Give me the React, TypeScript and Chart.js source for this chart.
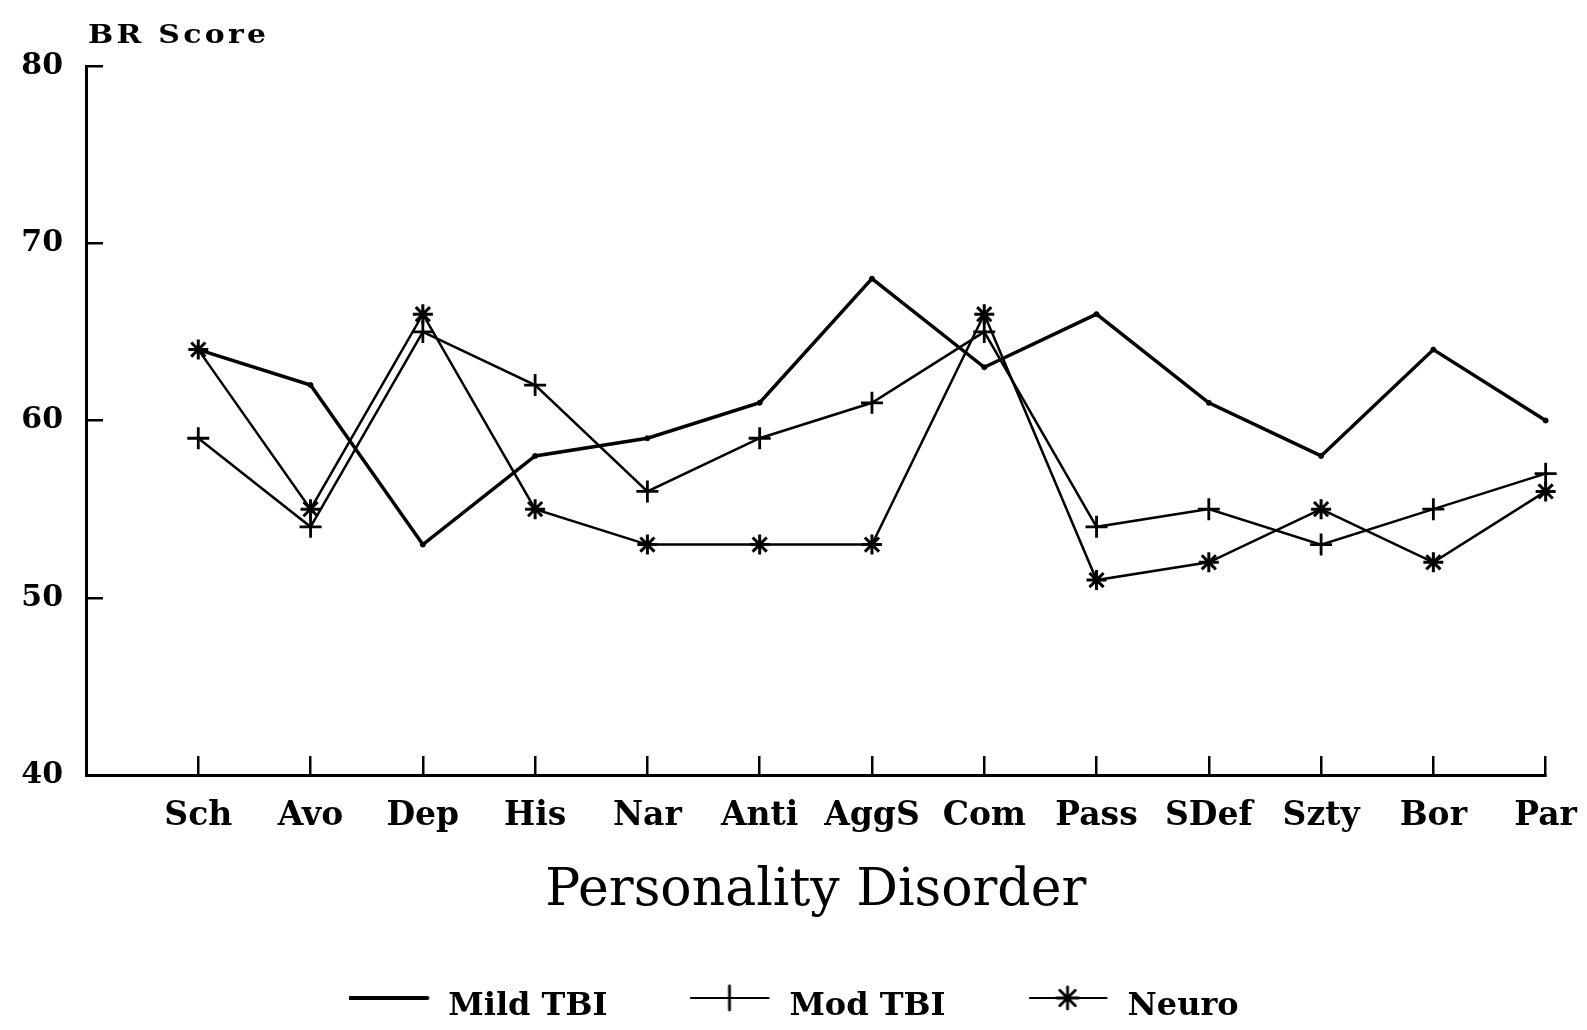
import React, { useEffect, useRef } from 'react';
import { Chart, registerables } from 'chart.js';

Chart.register(...registerables);

// ---- data ----
const categories = ['Sch', 'Avo', 'Dep', 'His', 'Nar', 'Anti', 'AggS', 'Com', 'Pass', 'SDef', 'Szty', 'Bor', 'Par'];
const mildTBI = [64, 62, 53, 58, 59, 61, 68, 63, 66, 61, 58, 64, 60];
const modTBI = [59, 54, 65, 62, 56, 59, 61, 65, 54, 55, 53, 55, 57];
const neuro = [64, 55, 66, 55, 53, 53, 53, 66, 51, 52, 55, 52, 56];
const yTicks = [40, 50, 60, 70, 80];
const seriesNames = ['Mild TBI', 'Mod TBI', 'Neuro'];
const xTitle = 'Personality Disorder';
const yTitle = 'BR Score';

const SERIF = '"DejaVu Serif", "Liberation Serif", serif';

function toPoints(values: number[]) {
  return values.map((v, i) => ({ x: i + 1, y: v }));
}

function legendImage(kind: 'line' | 'cross' | 'star'): HTMLCanvasElement {
  const c = document.createElement('canvas');
  c.width = 83;
  c.height = 50;
  const g = c.getContext('2d') as CanvasRenderingContext2D;
  g.strokeStyle = '#000';
  g.lineCap = 'round';
  const ly = 16;
  g.lineWidth = kind === 'line' ? 4 : 2.2;
  g.beginPath();
  g.moveTo(1, ly);
  g.lineTo(78, ly);
  g.stroke();
  g.lineWidth = 2.8;
  if (kind === 'cross') {
    g.beginPath();
    g.moveTo(39, ly - 12);
    g.lineTo(39, ly + 12);
    g.stroke();
  }
  if (kind === 'star') {
    g.beginPath();
    for (let k = 0; k < 4; k++) {
      const a = (k * Math.PI) / 4;
      const dx = Math.cos(a) * 11;
      const dy = Math.sin(a) * 11;
      g.moveTo(39 - dx, ly - dy);
      g.lineTo(39 + dx, ly + dy);
    }
    g.stroke();
  }
  return c;
}

const brScorePlugin = {
  id: 'brScoreTitle',
  afterDraw(chart: any) {
    const ctx = chart.ctx as CanvasRenderingContext2D;
    ctx.save();
    ctx.font = `bold 26px ${SERIF}`;
    ctx.fillStyle = '#000';
    ctx.textAlign = 'left';
    ctx.textBaseline = 'alphabetic';
    const sx = 1.15;
    const w0 = ctx.measureText(yTitle).width;
    const sp = Math.max(0, (178 / sx - w0) / (yTitle.length - 1));
    (ctx as any).letterSpacing = `${sp}px`;
    ctx.translate(88, 43);
    ctx.scale(sx, 1);
    ctx.fillText(yTitle, 0, 0);
    ctx.restore();
  },
};

export default function App() {
  const canvasRef = useRef<HTMLCanvasElement | null>(null);

  useEffect(() => {
    if (!canvasRef.current) return;
    const images = [legendImage('line'), legendImage('cross'), legendImage('star')];

    const chart = new Chart(canvasRef.current, {
      type: 'line',
      data: {
        datasets: [
          {
            label: seriesNames[0],
            data: toPoints(mildTBI),
            borderColor: '#000',
            backgroundColor: '#000',
            borderWidth: 3.5,
            pointStyle: 'circle',
            pointRadius: 2.5,
            pointBorderWidth: 1,
            pointBackgroundColor: '#000',
            pointBorderColor: '#000',
            tension: 0,
            clip: false as any,
          },
          {
            label: seriesNames[1],
            data: toPoints(modTBI),
            borderColor: '#000',
            backgroundColor: '#000',
            borderWidth: 2.5,
            pointStyle: 'cross',
            pointRadius: 11,
            pointBorderWidth: 2.8,
            pointBorderColor: '#000',
            tension: 0,
            clip: false as any,
          },
          {
            label: seriesNames[2],
            data: toPoints(neuro),
            borderColor: '#000',
            backgroundColor: '#000',
            borderWidth: 2.5,
            pointStyle: 'star',
            pointRadius: 10,
            pointBorderWidth: 3,
            pointBorderColor: '#000',
            tension: 0,
            clip: false as any,
          },
        ],
      },
      options: {
        responsive: false,
        animation: false,
        devicePixelRatio: 1,
        layout: { padding: { left: 10, right: 9, top: 66, bottom: 0 } },
        plugins: {
          tooltip: { enabled: false },
          title: { display: false },
          legend: {
            display: true,
            position: 'bottom',
            maxHeight: 122,
            labels: {
              usePointStyle: true,
              pointStyleWidth: 83,
              padding: 83,
              color: '#000',
              font: { family: SERIF, size: 32, weight: 'bold' },
              generateLabels: () =>
                seriesNames.map((name, i) => ({
                  text: name,
                  pointStyle: images[i] as any,
                  fillStyle: '#000',
                  strokeStyle: '#000',
                  lineWidth: 0,
                  hidden: false,
                  datasetIndex: i,
                  fontColor: '#000',
                })),
            },
          },
        },
        scales: {
          x: {
            type: 'linear',
            position: 'bottom',
            min: 0,
            max: categories.length,
            afterBuildTicks: (s: any) => {
              s.ticks = [0, ...categories.map((_, i) => i + 1)].map((v) => ({ value: v }));
            },
            afterFit: (s: any) => {
              s.height = 133;
            },
            grid: {
              display: true,
              drawOnChartArea: false,
              drawTicks: true,
              tickLength: -19,
              color: '#000',
              lineWidth: 2.5,
            },
            border: { display: true, color: '#000', width: 3 },
            ticks: {
              autoSkip: false,
              maxRotation: 0,
              minRotation: 0,
              padding: 10,
              color: '#000',
              font: { family: SERIF, size: 33, weight: 'bold', lineHeight: '100px' as any },
              callback: (v: any) => (v >= 1 && v <= categories.length ? categories[v - 1] : ''),
            },
            title: {
              display: true,
              text: xTitle,
              color: '#000',
              font: { family: SERIF, size: 52, weight: 'normal', lineHeight: '34px' as any },
              padding: { top: 0, bottom: 0 },
            },
          },
          y: {
            type: 'linear',
            position: 'left',
            min: yTicks[0],
            max: yTicks[yTicks.length - 1],
            afterBuildTicks: (s: any) => {
              s.ticks = yTicks.map((v) => ({ value: v }));
            },
            afterFit: (s: any) => {
              s.width = 76;
            },
            grid: {
              display: true,
              drawOnChartArea: false,
              drawTicks: true,
              tickLength: -17,
              color: '#000',
              lineWidth: 2.5,
            },
            border: { display: true, color: '#000', width: 3 },
            ticks: {
              padding: 40,
              color: '#000',
              font: { family: SERIF, size: 30, weight: 'bold' },
              callback: (v: any) => String(v),
            },
          },
        },
      },
      plugins: [brScorePlugin],
    });

    return () => chart.destroy();
  }, []);

  return (
    <div style={{ position: 'absolute', left: 0, top: 0, width: 1587, height: 1030, background: '#fff' }}>
      <canvas ref={canvasRef} width={1587} height={1030} style={{ display: 'block' }} />
    </div>
  );
}
